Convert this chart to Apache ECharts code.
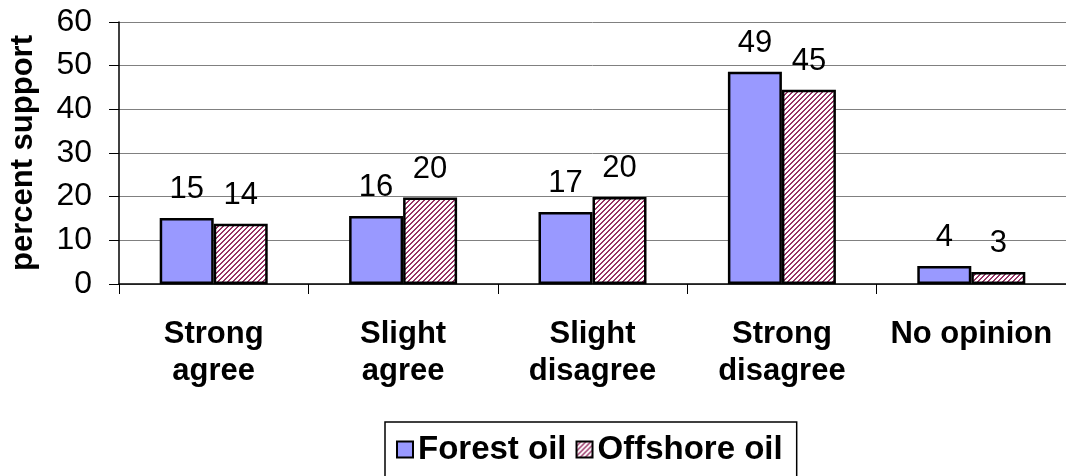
<!DOCTYPE html>
<html>
<head>
<meta charset="utf-8">
<script src="https://cdn.jsdelivr.net/npm/echarts@6/dist/echarts.min.js"></script>
<style>html,body{margin:0;padding:0;background:#fff}#c{width:1066px;height:476px}</style>
</head>
<body>
<div id="c"></div>
<script>
const categories = ['Strong\nagree', 'Slight\nagree', 'Slight\ndisagree', 'Strong\ndisagree', 'No opinion'];
const forestOil = [15.1, 15.6, 16.5, 48.6, 4.1];
const offshoreOil = [13.8, 19.8, 19.9, 44.5, 2.75];
const forestLabels = [15, 16, 17, 49, 4];
const offshoreLabels = [14, 20, 20, 45, 3];
const seriesNames = ['Forest oil', 'Offshore oil'];

function hatch() {
  const n = 5;
  const c = document.createElement('canvas');
  c.width = n; c.height = n;
  const ctx = c.getContext('2d');
  ctx.fillStyle = '#fff'; ctx.fillRect(0, 0, n, n);
  ctx.fillStyle = '#993366';
  for (let x = 0; x < n; x++) for (let y = 0; y < n; y++) {
    const k = (x + y) % n;
    if (k === 3 || k === 4) ctx.fillRect(x, y, 1, 1);
  }
  return c;
}
const pattern = { image: hatch(), repeat: 'repeat' };

const chart = echarts.init(document.getElementById('c'), null, { renderer: 'canvas' });
const labelFont = { fontFamily: 'Liberation Sans', fontSize: 31, color: '#000' };
chart.setOption({
  animation: false,
  textStyle: { fontFamily: 'Liberation Sans' },
  grid: { left: 119, right: -3, top: 22, bottom: 192, containLabel: false },
  legend: {
    data: seriesNames,
    icon: 'rect',
    left: 385, top: 422,
    padding: [11, 14, 20, 11],
    itemWidth: 16, itemHeight: 16, itemGap: 9,
    borderColor: '#000', borderWidth: 1.5,
    textStyle: { fontFamily: 'Liberation Sans', fontWeight: 'bold', fontSize: 33, color: '#000' }
  },
  xAxis: {
    type: 'category',
    data: categories,
    axisLine: { lineStyle: { color: '#000', width: 1.5 } },
    axisTick: { show: true, length: 10, lineStyle: { color: '#000', width: 1 } },
    axisLabel: { interval: 0, margin: 32, fontFamily: 'Liberation Sans', fontWeight: 'bold', fontSize: 31, lineHeight: 37, color: '#000' }
  },
  yAxis: {
    type: 'value', min: 0, max: 60, interval: 10,
    name: 'percent support', nameLocation: 'middle', nameGap: 80,
    nameTextStyle: { fontFamily: 'Liberation Sans', fontWeight: 'bold', fontSize: 31, color: '#000' },
    axisLine: { show: true, lineStyle: { color: '#000', width: 1.5 } },
    axisTick: { show: true, length: 10, lineStyle: { color: '#000', width: 1 } },
    axisLabel: { margin: 27, fontFamily: 'Liberation Sans', fontSize: 32, color: '#000' },
    splitLine: { lineStyle: { color: '#808080', width: 1 } }
  },
  series: [
    {
      name: seriesNames[0], type: 'bar', data: forestOil, barWidth: 54, barGap: '0%',
      itemStyle: { color: '#9999ff', borderColor: '#000', borderWidth: 2.5 },
      label: { show: true, position: 'top', distance: 13, ...labelFont,
        formatter: p => String(forestLabels[p.dataIndex]) }
    },
    {
      name: seriesNames[1], type: 'bar', data: offshoreOil, barWidth: 54, barGap: '0%',
      itemStyle: { color: pattern, borderColor: '#000', borderWidth: 2.5 },
      label: { show: true, position: 'top', distance: 13, ...labelFont,
        formatter: p => String(offshoreLabels[p.dataIndex]) }
    }
  ]
});
</script>
</body>
</html>
